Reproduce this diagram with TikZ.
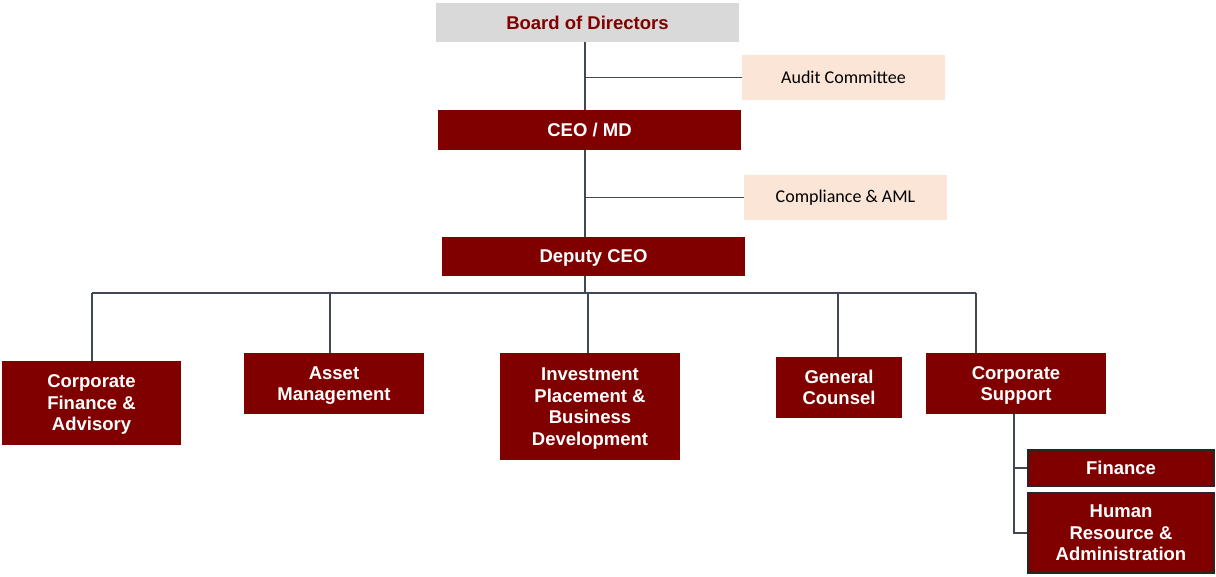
\documentclass[tikz,border=0pt]{standalone}
\usepackage{fontspec}
\setmainfont{Liberation Sans}
\newfontfamily\calibri{Carlito}
\usepackage{xcolor}
\usetikzlibrary{positioning,calc}
\definecolor{maroon}{HTML}{800000}
\definecolor{boardgray}{HTML}{D9D9D9}
\definecolor{peach}{HTML}{FBE5D6}
\definecolor{linegray}{HTML}{404853}

\begin{document}
\begin{tikzpicture}[x=1pt,y=-1pt,
	unit/.style={fill=maroon,text=white,font=\fontsize{18.5}{21.5}\selectfont\bfseries,align=center,inner sep=0pt,text depth=0pt},
	side/.style={fill=peach,text=black,font=\calibri\fontsize{18}{21}\selectfont,minimum width=203pt,minimum height=45pt,inner sep=0pt},
	link/.style={draw=linegray,line width=1.5pt}]
	\useasboundingbox (0,0) rectangle (1216,576);
	% top of the chart
	\node[fill=boardgray,text=maroon,font=\fontsize{18.5}{21}\selectfont\bfseries,minimum width=303pt,minimum height=39pt,inner sep=0pt,text depth=0pt] (board) at (587.5,22.5) {Board of Directors};
	\node[side] (audit) at (843.5,77.5) {Audit Committee};
	\node[unit,minimum width=303pt,minimum height=40pt] (ceo) at (589.5,130) {CEO / MD};
	\node[side] (compl) at (845.5,197.5) {Compliance \& AML};
	\node[unit,minimum width=303pt,minimum height=39pt] (deputy) at (593.5,256.5) {Deputy CEO};
	
	% divisions
	\node[unit,minimum width=179pt,minimum height=84pt] (cfa) at (91.5,403) {Corporate\\Finance \&\\Advisory};
	\node[unit,minimum width=180pt,minimum height=61pt] (am) at (334,383.5) {Asset\\Management};
	\node[unit,minimum width=180pt,minimum height=107pt] (ip) at (590,406.5) {Investment\\Placement \&\\Business\\Development};
	\node[unit,minimum width=126pt,minimum height=61pt] (gc) at (839,387.5) {General\\Counsel};
	\node[unit,minimum width=180pt,minimum height=61pt] (cs) at (1016,383.5) {Corporate\\Support};
	\node[unit,draw=black!85,line width=1.5pt,minimum width=186pt,minimum height=36pt] (fin) at (1121,468) {Finance};
	\node[unit,draw=black!85,line width=1.5pt,minimum width=186pt,minimum height=80pt] (hr) at (1121,533) {Human\\Resource \&\\Administration};
	
	\coordinate (spA) at (585,0);
	\coordinate (busL) at (92,293);
	\coordinate (busR) at (976,293);
	\coordinate (spB) at (1014,0);
	
	\draw[link] (board.south -| spA) -- (ceo.north -| spA);
	\draw[link] (spA |- audit.west) -- (audit.west);
	\draw[link] (ceo.south -| spA) -- (deputy.north -| spA);
	\draw[link] (spA |- compl.west) -- (compl.west);
	\draw[link] (deputy.south -| spA) -- (spA |- busL);
	\draw[link] (busL) -- (busR);
	\foreach \n/\x in {cfa/92,am/330,ip/588,gc/838,cs/976}
		\draw[link] (\x,293) -- (\n.north -| {(\x,0)});
	
	\draw[link] (cs.south -| spB) |- (hr.west);
	\draw[link] (spB |- fin.west) -- (fin.west);
\end{tikzpicture}
\end{document}
